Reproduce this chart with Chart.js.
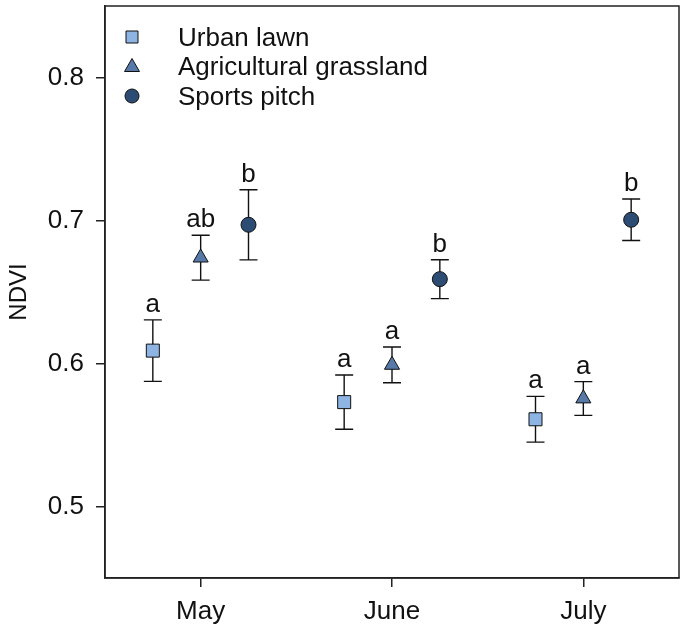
<!DOCTYPE html>
<html>
<head>
<meta charset="utf-8">
<script src="https://cdn.jsdelivr.net/npm/chart.js"></script>
<style>
  html, body { margin: 0; padding: 0; background: #fff; }
  #wrap { width: 685px; height: 633px; }
</style>
</head>
<body>
<div id="wrap"><canvas id="ndvi" width="685" height="633"></canvas></div>
<script>
// Data (mean NDVI +/- error)
const months = ["May", "June", "July"];
const monthPos = [1, 2, 3];
const yTicks = [0.5, 0.6, 0.7, 0.8];

const urbanMean = [0.609, 0.573, 0.561];
const urbanErr = [0.0215, 0.019, 0.016];
const urbanLetters = ["a", "a", "a"];

const agriMean = [0.674, 0.599, 0.5755];
const agriErr = [0.0157, 0.0125, 0.0118];
const agriLetters = ["ab", "a", "a"];

const sportsMean = [0.697, 0.659, 0.7005];
const sportsErr = [0.0245, 0.0136, 0.0145];
const sportsLetters = ["b", "b", "b"];

const FONT = "'Liberation Sans', Arial, sans-serif";
const AXIS_COLOR = "#222";

// Build one scatter dataset per treatment
function makeSet(label, mean, err, letters, offset, style, radius, color) {
  return {
    label,
    data: monthPos.map((m, i) => ({ x: m + offset, y: mean[i] })),
    err,
    letters,
    pointStyle: style,
    pointRadius: radius,
    pointHoverRadius: radius,
    backgroundColor: color,
    borderColor: "#111",
    borderWidth: 1,
    showLine: false,
  };
}

const datasets = [
  makeSet("Urban lawn", urbanMean, urbanErr, urbanLetters, -0.25, "rect", 9.2, "#8db4e3"),
  makeSet("Agricultural grassland", agriMean, agriErr, agriLetters, 0, "triangle", 8.7, "#5679a8"),
  makeSet("Sports pitch", sportsMean, sportsErr, sportsLetters, 0.25, "circle", 7.5, "#2d4c73"),
];

// Error bars under the points
const errorBars = {
  id: "errorBars",
  beforeDatasetsDraw(chart) {
    const { ctx, scales } = chart;
    ctx.save();
    ctx.strokeStyle = "#111";
    ctx.lineWidth = 1.4;
    chart.data.datasets.forEach((ds) => {
      ds.data.forEach((p, i) => {
        const x = scales.x.getPixelForValue(p.x);
        const top = scales.y.getPixelForValue(p.y + ds.err[i]);
        const bot = scales.y.getPixelForValue(p.y - ds.err[i]);
        ctx.beginPath();
        ctx.moveTo(x, top);
        ctx.lineTo(x, bot);
        ctx.moveTo(x - 9, top);
        ctx.lineTo(x + 9, top);
        ctx.moveTo(x - 9, bot);
        ctx.lineTo(x + 9, bot);
        ctx.stroke();
      });
    });
    ctx.restore();
  },
};

// Significance letters above bars, box, and legend inside the plot
const extras = {
  id: "extras",
  afterDraw(chart) {
    const { ctx, scales, chartArea } = chart;
    ctx.save();
    ctx.fillStyle = "#111";
    ctx.font = "26px " + FONT;
    ctx.textAlign = "center";
    ctx.textBaseline = "alphabetic";
    chart.data.datasets.forEach((ds) => {
      ds.data.forEach((p, i) => {
        const x = scales.x.getPixelForValue(p.x);
        const top = scales.y.getPixelForValue(p.y + ds.err[i]);
        ctx.fillText(ds.letters[i], x, top - 8);
      });
    });

    // frame
    ctx.strokeStyle = AXIS_COLOR;
    ctx.lineWidth = 1.5;
    ctx.strokeRect(chartArea.left, chartArea.top, chartArea.right - chartArea.left, chartArea.bottom - chartArea.top);

    // legend
    const lx = 132, rows = [37, 66.5, 96];
    ctx.textAlign = "left";
    chart.data.datasets.forEach((ds, i) => {
      const y = rows[i];
      ctx.fillStyle = ds.backgroundColor;
      ctx.strokeStyle = "#111";
      ctx.lineWidth = 1;
      ctx.beginPath();
      if (ds.pointStyle === "rect") {
        ctx.rect(lx - 6, y - 6, 12, 12);
      } else if (ds.pointStyle === "triangle") {
        ctx.moveTo(lx, y - 8);
        ctx.lineTo(lx + 7.5, y + 5);
        ctx.lineTo(lx - 7.5, y + 5);
        ctx.closePath();
      } else {
        ctx.arc(lx, y, 7, 0, Math.PI * 2);
      }
      ctx.fill();
      ctx.stroke();
      ctx.fillStyle = "#111";
      ctx.fillText(ds.label, 178, y + 8.5);
    });
    ctx.restore();
  },
};

const ctx = document.getElementById("ndvi").getContext("2d");
new Chart(ctx, {
  type: "scatter",
  data: { datasets },
  plugins: [errorBars, extras],
  options: {
    responsive: false,
    animation: false,
    events: [],
    layout: { autoPadding: false, padding: { top: 6, right: 6, left: 0, bottom: 0 } },
    plugins: { legend: { display: false }, tooltip: { enabled: false } },
    scales: {
      x: {
        type: "linear",
        min: 0.5,
        max: 3.5,
        afterBuildTicks: (axis) => { axis.ticks = monthPos.map((v) => ({ value: v })); },
        afterFit: (axis) => { axis.height = 55; axis.paddingLeft = 0; axis.paddingRight = 0; },
        ticks: {
          callback: (v) => months[monthPos.indexOf(v)] || "",
          font: { family: FONT, size: 26 },
          color: "#111",
          padding: 9,
          maxRotation: 0,
        },
        grid: { display: true, drawOnChartArea: false, drawTicks: true, tickLength: 9, color: AXIS_COLOR, lineWidth: 1.5 },
        border: { display: true, color: AXIS_COLOR, width: 1.5 },
      },
      y: {
        type: "linear",
        min: 0.45,
        max: 0.85,
        afterBuildTicks: (axis) => { axis.ticks = yTicks.map((v) => ({ value: v })); },
        afterFit: (axis) => { axis.width = 105; axis.paddingTop = 0; axis.paddingBottom = 0; },
        ticks: {
          callback: (v) => v.toFixed(1),
          font: { family: FONT, size: 26 },
          color: "#111",
          padding: 12,
        },
        title: {
          display: true,
          text: "NDVI",
          font: { family: FONT, size: 24 },
          color: "#111",
          padding: { top: 5, bottom: 0 },
        },
        grid: { display: true, drawOnChartArea: false, drawTicks: true, tickLength: 9, color: AXIS_COLOR, lineWidth: 1.5 },
        border: { display: true, color: AXIS_COLOR, width: 1.5 },
      },
    },
  },
});
</script>
</body>
</html>
